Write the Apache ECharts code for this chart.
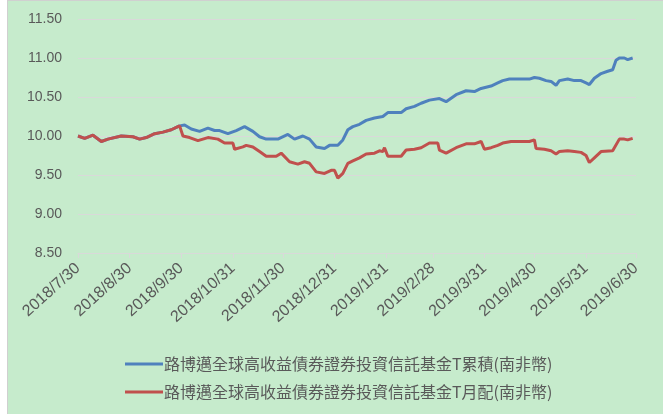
<!DOCTYPE html>
<html>
<head>
<meta charset="utf-8">
<script src="https://cdn.jsdelivr.net/npm/echarts@6/dist/echarts.min.js"></script>
<style>
  html, body { margin: 0; padding: 0; background: #fff; }
  #box { position: absolute; left: 7px; top: 0; width: 656px; height: 414px; background: #c6ebcc;
         border-left: 1px solid #d0d0d0; border-top: 1px solid #d0d0d0; box-sizing: border-box; }
  #chart { position: absolute; left: 0; top: 0; width: 663px; height: 414px; }
</style>
</head>
<body>
<div id="box"></div>
<div id="chart"></div>
<script>
// series names
var seriesNames = ['路博邁全球高收益債券證券投資信託基金T累積(南非幣)', '路博邁全球高收益債券證券投資信託基金T月配(南非幣)']

// x axis tick dates
var tickDates = ['2018/7/30', '2018/8/30', '2018/9/30', '2018/10/31', '2018/11/30', '2018/12/31',
  '2019/1/31', '2019/2/28', '2019/3/31', '2019/4/30', '2019/5/31', '2019/6/30']

// T累積
var accDates = ['2018/7/30', '2018/8/3', '2018/8/8', '2018/8/13', '2018/8/17', '2018/8/25', '2018/9/1',
  '2018/9/5', '2018/9/9', '2018/9/14', '2018/9/19', '2018/9/24', '2018/9/27', '2018/9/29', '2018/10/2',
  '2018/10/6', '2018/10/11', '2018/10/16', '2018/10/20', '2018/10/23', '2018/10/28', '2018/11/2',
  '2018/11/7', '2018/11/12', '2018/11/16', '2018/11/20', '2018/11/27', '2018/12/3', '2018/12/7',
  '2018/12/12', '2018/12/16', '2018/12/20', '2018/12/25', '2018/12/28', '2019/1/2', '2019/1/5',
  '2019/1/8', '2019/1/11', '2019/1/15', '2019/1/19', '2019/1/24', '2019/1/29', '2019/2/1', '2019/2/9',
  '2019/2/12', '2019/2/17', '2019/2/21', '2019/2/26', '2019/3/4', '2019/3/8', '2019/3/14', '2019/3/20',
  '2019/3/25', '2019/3/29', '2019/4/4', '2019/4/8', '2019/4/11', '2019/4/15', '2019/4/27', '2019/4/30',
  '2019/5/3', '2019/5/7', '2019/5/10', '2019/5/13', '2019/5/15', '2019/5/20', '2019/5/24', '2019/5/28',
  '2019/5/31', '2019/6/2', '2019/6/5', '2019/6/9', '2019/6/13', '2019/6/16', '2019/6/18', '2019/6/20',
  '2019/6/23', '2019/6/25', '2019/6/28']
var accValues = [10.00, 9.97, 10.01, 9.93, 9.96, 10.00, 9.99,
  9.96, 9.98, 10.03, 10.05, 10.08, 10.11, 10.13, 10.14,
  10.09, 10.06, 10.10, 10.07, 10.07, 10.03, 10.07,
  10.12, 10.06, 9.99, 9.96, 9.96, 10.02, 9.96,
  10.00, 9.96, 9.86, 9.84, 9.88, 9.88, 9.95,
  10.08, 10.12, 10.15, 10.20, 10.23, 10.25, 10.30, 10.30,
  10.35, 10.38, 10.42, 10.46, 10.48, 10.44, 10.53, 10.58,
  10.57, 10.61, 10.64, 10.68, 10.71, 10.73, 10.73, 10.75,
  10.74, 10.71, 10.70, 10.65, 10.71, 10.73, 10.71, 10.71,
  10.68, 10.66, 10.74, 10.80, 10.83, 10.85, 10.97, 11.00,
  11.00, 10.98, 11.00]

// T月配
var monDates = ['2018/7/30', '2018/8/3', '2018/8/8', '2018/8/13', '2018/8/17', '2018/8/25', '2018/9/1',
  '2018/9/5', '2018/9/9', '2018/9/14', '2018/9/19', '2018/9/24', '2018/9/27', '2018/9/29', '2018/10/1',
  '2018/10/5', '2018/10/10', '2018/10/16', '2018/10/22', '2018/10/26', '2018/10/31', '2018/11/1',
  '2018/11/6', '2018/11/8', '2018/11/12', '2018/11/16', '2018/11/20', '2018/11/26', '2018/11/29',
  '2018/12/4', '2018/12/9', '2018/12/13', '2018/12/16', '2018/12/20', '2018/12/25', '2018/12/29',
  '2018/12/31', '2019/1/2', '2019/1/5', '2019/1/8', '2019/1/11', '2019/1/15', '2019/1/19', '2019/1/24',
  '2019/1/27', '2019/1/29', '2019/1/30', '2019/2/1', '2019/2/9', '2019/2/12', '2019/2/17', '2019/2/21',
  '2019/2/26', '2019/3/3', '2019/3/4', '2019/3/8', '2019/3/14', '2019/3/20', '2019/3/25', '2019/3/29',
  '2019/3/31', '2019/4/4', '2019/4/8', '2019/4/11', '2019/4/16', '2019/4/27', '2019/4/30', '2019/5/1',
  '2019/5/6', '2019/5/10', '2019/5/13', '2019/5/15', '2019/5/20', '2019/5/24', '2019/5/28', '2019/5/31',
  '2019/6/2', '2019/6/5', '2019/6/9', '2019/6/16', '2019/6/20', '2019/6/23', '2019/6/25', '2019/6/28']
var monValues = [10.00, 9.97, 10.01, 9.93, 9.96, 10.00, 9.99,
  9.96, 9.98, 10.03, 10.05, 10.08, 10.11, 10.13, 10.00,
  9.98, 9.94, 9.98, 9.96, 9.91, 9.91, 9.83,
  9.86, 9.88, 9.86, 9.80, 9.74, 9.74, 9.78,
  9.67, 9.64, 9.67, 9.65, 9.54, 9.52, 9.56,
  9.56, 9.46, 9.52, 9.65, 9.68, 9.72, 9.77, 9.78,
  9.81, 9.80, 9.85, 9.74, 9.74, 9.82, 9.83, 9.85,
  9.91, 9.91, 9.82, 9.78, 9.85, 9.90, 9.90, 9.93,
  9.83, 9.85, 9.88, 9.91, 9.93, 9.93, 9.95, 9.84,
  9.83, 9.81, 9.77, 9.80, 9.81, 9.80, 9.79, 9.75,
  9.66, 9.72, 9.80, 9.81, 9.96, 9.96, 9.95, 9.97]

var DAY = 86400000
var start = new Date(tickDates[0]).getTime()

// days since the first tick date
function dayOf(s) {
  return Math.round((new Date(s).getTime() - start) / DAY)
}

function pairs(dates, values) {
  return dates.map(function (d, i) { return [dayOf(d), values[i]] })
}

var tickDays = tickDates.map(dayOf)
var labelColor = '#595959'
var gridColor = '#d9d9d9'

var chart = echarts.init(document.getElementById('chart'))
chart.setOption({
  animation: false,
  backgroundColor: 'transparent',
  textStyle: { fontFamily: 'Liberation Sans, Noto Sans CJK TC' },
  grid: { left: 78, right: 27, top: 19, bottom: 161, containLabel: false },
  legend: {
    orient: 'vertical',
    left: 120,
    top: 350,
    itemWidth: 38,
    itemHeight: 3,
    itemGap: 10,
    icon: 'rect',
    data: seriesNames,
    textStyle: { color: labelColor, fontSize: 16, fontFamily: 'Noto Sans CJK TC', lineHeight: 18, padding: [0, 0, 0, -4] }
  },
  xAxis: {
    type: 'value',
    min: tickDays[0],
    max: tickDays[tickDays.length - 1],
    axisLine: { lineStyle: { color: gridColor } },
    axisTick: { show: true, length: 5, lineStyle: { color: gridColor }, customValues: tickDays },
    splitLine: { show: false },
    axisLabel: {
      customValues: tickDays,
      rotate: 42,
      color: labelColor,
      fontSize: 16,
      margin: 13,
      formatter: function (v) {
        var i = tickDays.indexOf(v)
        return i >= 0 ? tickDates[i] : ''
      }
    }
  },
  yAxis: {
    type: 'value',
    min: 8.5,
    max: 11.5,
    interval: 0.5,
    axisLine: { show: false },
    axisTick: { show: false },
    splitLine: { lineStyle: { color: gridColor } },
    axisLabel: {
      color: labelColor,
      fontSize: 14,
      margin: 16,
      formatter: function (v) { return v.toFixed(2) }
    }
  },
  series: [
    {
      name: seriesNames[0],
      type: 'line',
      symbol: 'none',
      data: pairs(accDates, accValues),
      lineStyle: { color: '#4f81bd', width: 3 },
      itemStyle: { color: '#4f81bd' }
    },
    {
      name: seriesNames[1],
      type: 'line',
      symbol: 'none',
      data: pairs(monDates, monValues),
      lineStyle: { color: '#c0504d', width: 3 },
      itemStyle: { color: '#c0504d' }
    }
  ]
})
</script>
</body>
</html>
